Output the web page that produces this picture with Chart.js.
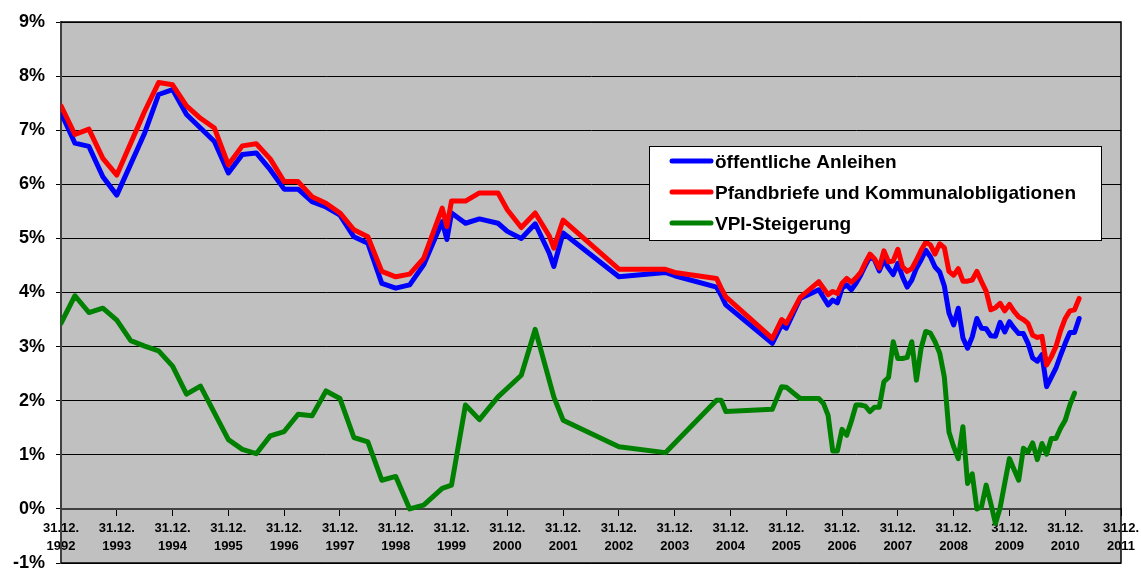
<!DOCTYPE html>
<html lang="de">
<head>
<meta charset="utf-8">
<title>Renditen und VPI-Steigerung</title>
<script src="https://cdn.jsdelivr.net/npm/chart.js@4.4.1/dist/chart.umd.min.js"></script>
<style>
  html, body { margin: 0; padding: 0; background: #fff; }
  #wrap { position: relative; width: 1141px; height: 569px; }
</style>
</head>
<body>
<div id="wrap"><canvas id="chart"></canvas></div>
<script>
const FONT = 'Arial, "Liberation Sans", sans-serif';

const seriesLabels = ['öffentliche Anleihen', 'Pfandbriefe und Kommunalobligationen', 'VPI-Steigerung'];
const seriesColors = ['#0000ff', '#ff0000', '#008000'];
const tickPrefix = '31.12.';

// Monatsenden als 'JJJJ-MM'
const bondDatesEarly = [
  '1992-12', '1993-03', '1993-06', '1993-09', '1993-12', '1994-06', '1994-09', '1994-12',
  '1995-03', '1995-06', '1995-09', '1995-12', '1996-03', '1996-06', '1996-09', '1996-12',
  '1997-03', '1997-06', '1997-09', '1997-12', '1998-03', '1998-06', '1998-09', '1998-12',
  '1999-03', '1999-06', '1999-10', '1999-11', '1999-12', '2000-03', '2000-06', '2000-10', '2000-12',
  '2001-03', '2001-06', '2001-09', '2001-10', '2001-12', '2002-12', '2003-10', '2003-12',
  '2004-09', '2004-10', '2004-11', '2005-09', '2005-11', '2005-12', '2006-03', '2006-07'
];
const vpiDatesEarly = [
  '1992-12', '1993-03', '1993-06', '1993-09', '1993-12', '1994-03', '1994-06', '1994-09', '1994-12',
  '1995-03', '1995-06', '1995-12', '1996-03', '1996-06', '1996-09', '1996-12',
  '1997-03', '1997-06', '1997-09', '1997-12', '1998-03', '1998-06', '1998-09', '1998-12',
  '1999-03', '1999-06', '1999-10', '1999-12', '2000-03', '2000-06', '2000-10', '2000-12',
  '2001-03', '2001-06', '2001-10', '2001-12', '2002-12', '2003-10',
  '2004-09', '2004-10', '2004-11', '2005-09', '2005-11', '2005-12', '2006-03', '2006-07', '2006-08'
];
const monthlyDates = [
  '2006-09', '2006-10', '2006-11', '2006-12',
  '2007-01', '2007-02', '2007-03', '2007-04', '2007-05', '2007-06', '2007-07', '2007-08', '2007-09', '2007-10', '2007-11', '2007-12',
  '2008-01', '2008-02', '2008-03', '2008-04', '2008-05', '2008-06', '2008-07', '2008-08', '2008-09', '2008-10', '2008-11', '2008-12',
  '2009-01', '2009-02', '2009-03', '2009-04', '2009-05', '2009-06', '2009-07', '2009-08', '2009-09', '2009-10', '2009-11', '2009-12',
  '2010-01', '2010-02', '2010-03', '2010-04', '2010-05', '2010-06', '2010-07', '2010-08', '2010-09', '2010-10', '2010-11', '2010-12',
  '2011-01', '2011-02', '2011-03'
];

const oeffentlicheAnleihen = [
  7.32, 6.76, 6.70, 6.14, 5.80, 6.95, 7.66, 7.75,
  7.29, 7.04, 6.79, 6.21, 6.55, 6.58, 6.27, 5.91,
  5.91, 5.68, 5.58, 5.43, 5.03, 4.91, 4.17, 4.08,
  4.14, 4.51, 5.31, 4.98, 5.47, 5.28, 5.36, 5.28, 5.13,
  5.00, 5.27, 4.73, 4.48, 5.10, 4.29, 4.37, 4.31,
  4.10, 3.95, 3.77, 3.06, 3.40, 3.34, 3.89, 4.05,
  3.77, 3.86, 3.81, 4.08,
  4.14, 4.05, 4.17, 4.32, 4.50, 4.66, 4.60, 4.40, 4.60, 4.45, 4.33, 4.54,
  4.29, 4.10, 4.23, 4.45, 4.60, 4.78, 4.66, 4.47, 4.38, 4.12, 3.62, 3.40,
  3.71, 3.16, 2.97, 3.18, 3.52, 3.34, 3.33, 3.20, 3.19, 3.45, 3.27, 3.46,
  3.34, 3.24, 3.24, 3.06, 2.79, 2.73, 2.85, 2.26, 2.43, 2.60, 2.84, 3.06,
  3.26, 3.26, 3.52
];
const pfandbriefe = [
  7.45, 6.92, 7.02, 6.48, 6.17, 7.35, 7.88, 7.84,
  7.45, 7.22, 7.04, 6.36, 6.71, 6.75, 6.47, 6.05,
  6.05, 5.77, 5.65, 5.47, 5.16, 5.03, 4.39, 4.29,
  4.34, 4.63, 5.56, 5.22, 5.69, 5.69, 5.84, 5.84, 5.53,
  5.20, 5.47, 5.05, 4.82, 5.34, 4.43, 4.43, 4.37,
  4.26, 4.08, 3.92, 3.15, 3.50, 3.43, 3.91, 4.20,
  3.96, 4.02, 3.98, 4.17,
  4.26, 4.19, 4.27, 4.37, 4.55, 4.71, 4.62, 4.45, 4.77, 4.57, 4.58, 4.80,
  4.48, 4.39, 4.44, 4.60, 4.78, 4.93, 4.88, 4.71, 4.90, 4.83, 4.39, 4.32,
  4.44, 4.21, 4.21, 4.23, 4.39, 4.20, 4.02, 3.68, 3.72, 3.80, 3.66, 3.78,
  3.65, 3.55, 3.50, 3.43, 3.21, 3.17, 3.19, 2.66, 2.81, 3.00, 3.29, 3.52,
  3.66, 3.68, 3.89
];
const vpiSteigerung = [
  3.43, 3.94, 3.63, 3.71, 3.49, 3.11, 3.01, 2.92, 2.64,
  2.12, 2.27, 1.28, 1.10, 1.02, 1.35, 1.43,
  1.75, 1.72, 2.18, 2.04, 1.32, 1.24, 0.53, 0.60,
  0.00, 0.07, 0.38, 0.44, 1.92, 1.65, 2.07, 2.23,
  2.47, 3.32, 2.07, 1.64, 1.15, 1.04,
  2.01, 2.01, 1.80, 1.84, 2.26, 2.25, 2.04, 2.04, 1.95,
  1.73, 1.07, 1.07, 1.47,
  1.36, 1.62, 1.92, 1.92, 1.90, 1.80, 1.88, 1.88, 2.35, 2.43, 3.09, 2.78,
  2.78, 2.80, 3.09, 2.38, 2.97, 3.28, 3.25, 3.09, 2.88, 2.44, 1.42, 1.15,
  0.93, 1.52, 0.47, 0.65, 0.00, 0.04, 0.44, 0.10, -0.27, 0.02, 0.48, 0.93,
  0.73, 0.53, 1.12, 1.05, 1.22, 0.91, 1.21, 1.01, 1.30, 1.30, 1.49, 1.64,
  1.92, 2.14
];

const bondDates = bondDatesEarly.concat(monthlyDates);
const vpiDates = vpiDatesEarly.concat(monthlyDates.slice(0, -1));

// Achsenwert 1992 = 31.12.1992
function axisPos(month) {
  const [y, m] = month.split('-').map(Number);
  return y - 1 + m / 12;
}
function toPoints(dates, values) {
  return dates.map((d, i) => ({ x: axisPos(d), y: values[i] }));
}

const plotFrame = {
  id: 'plotFrame',
  beforeDraw(chart) {
    const { ctx, chartArea: a } = chart;
    ctx.save();
    ctx.fillStyle = '#c0c0c0';
    ctx.fillRect(a.left, a.top, a.right - a.left, a.bottom - a.top);
    ctx.restore();
  },
  afterDraw(chart) {
    const { ctx, chartArea: a } = chart;
    ctx.save();
    ctx.strokeStyle = '#000';
    ctx.lineWidth = 1.5;
    ctx.beginPath();
    ctx.moveTo(a.left, a.top);
    ctx.lineTo(a.right, a.top);
    ctx.lineTo(a.right, a.bottom);
    ctx.lineTo(a.left, a.bottom);
    ctx.stroke();
    ctx.restore();
  }
};

const boxLegend = {
  id: 'boxLegend',
  afterDraw(chart, args, o) {
    const { ctx } = chart;
    ctx.save();
    ctx.fillStyle = '#fff';
    ctx.fillRect(o.left, o.top, o.width, o.height);
    ctx.strokeStyle = '#000';
    ctx.lineWidth = 1;
    ctx.strokeRect(o.left + 0.5, o.top + 0.5, o.width, o.height);
    ctx.font = 'bold ' + o.fontSize + 'px ' + FONT;
    ctx.textBaseline = 'middle';
    chart.data.datasets.forEach((ds, i) => {
      const y = o.top + o.firstRow + i * o.rowGap;
      ctx.strokeStyle = ds.borderColor;
      ctx.lineWidth = 5;
      ctx.lineCap = 'round';
      ctx.beginPath();
      ctx.moveTo(o.left + o.lineStart, y);
      ctx.lineTo(o.left + o.lineEnd, y);
      ctx.stroke();
      ctx.fillStyle = '#000';
      ctx.fillText(ds.label, o.left + o.textStart, y + 2);
    });
    ctx.restore();
  }
};

function lineSet(i, points, order) {
  return {
    label: seriesLabels[i],
    data: points,
    borderColor: seriesColors[i],
    backgroundColor: seriesColors[i],
    borderWidth: 5,
    borderJoinStyle: 'round',
    borderCapStyle: 'round',
    pointRadius: 0,
    tension: 0,
    fill: false,
    order: order
  };
}

new Chart(document.getElementById('chart'), {
  type: 'line',
  data: {
    datasets: [
      lineSet(0, toPoints(bondDates, oeffentlicheAnleihen), 1),
      lineSet(1, toPoints(bondDates, pfandbriefe), 0),
      lineSet(2, toPoints(vpiDates, vpiSteigerung), 2)
    ]
  },
  options: {
    responsive: true,
    maintainAspectRatio: false,
    animation: false,
    devicePixelRatio: 1,
    layout: { padding: { top: 22, right: 20, bottom: 6, left: 0 } },
    scales: {
      x: {
        type: 'linear',
        min: 1992,
        max: 2011,
        position: { y: 0 },
        ticks: {
          stepSize: 1,
          autoSkip: false,
          maxRotation: 0,
          padding: 4,
          color: '#000',
          font: { family: FONT, size: 13, weight: 'bold', lineHeight: 1.4 },
          callback: v => [tickPrefix, String(v)]
        },
        grid: { drawOnChartArea: false, drawTicks: true, tickLength: 6, color: '#000', lineWidth: 1 },
        border: { color: '#404040', width: 2 },
        afterFit(s) {
          s.paddingLeft = 0;
          s.paddingRight = 0;
        }
      },
      y: {
        min: -1,
        max: 9,
        ticks: {
          stepSize: 1,
          padding: 11,
          color: '#000',
          font: { family: FONT, size: 18, weight: 'bold' },
          callback: v => v + '%'
        },
        grid: { color: '#000', lineWidth: 1, tickLength: 5 },
        border: { color: '#404040', width: 2 },
        afterFit(s) {
          s.width = 61;
          s.paddingTop = 0;
          s.paddingBottom = 0;
        }
      }
    },
    plugins: {
      legend: { display: false },
      tooltip: { enabled: false },
      boxLegend: {
        left: 649, top: 146, width: 452, height: 94,
        firstRow: 15, rowGap: 31,
        lineStart: 23, lineEnd: 62, textStart: 66,
        fontSize: 19
      }
    }
  },
  plugins: [plotFrame, boxLegend]
});
</script>
</body>
</html>
